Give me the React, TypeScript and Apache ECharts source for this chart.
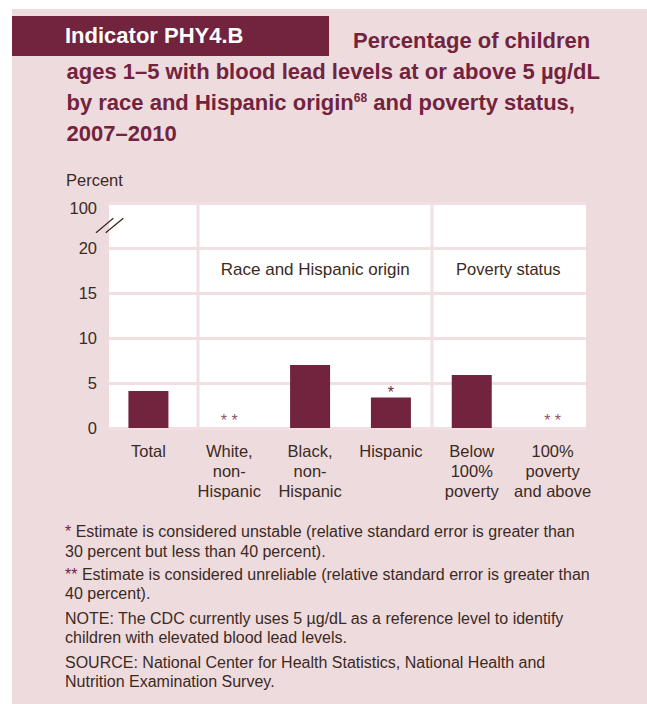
import React, { useEffect, useRef } from "react";
import * as echarts from "echarts";

// ---- data ----
const categories = [
  "Total",
  "White, non-Hispanic",
  "Black, non-Hispanic",
  "Hispanic",
  "Below 100% poverty",
  "100% poverty and above",
];
const categoryLabels = [
  "Total",
  "White,\nnon-\nHispanic",
  "Black,\nnon-\nHispanic",
  "Hispanic",
  "Below\n100%\npoverty",
  "100%\npoverty\nand above",
];
const values: (number | null)[] = [4.1, null, 7.0, 3.4, 5.9, null];
const flags = ["", "* *", "", "*", "", "* *"];
const yTicks = [0, 5, 10, 15, 20, 25];
const yTickLabels = ["0", "5", "10", "15", "20", "100"];
const groupHeaders = ["Race and Hispanic origin", "Poverty status"];
const titleBox = "Indicator PHY4.B";
const titleLines = [
  "Percentage of children",
  "ages 1–5 with blood lead levels at or above 5 µg/dL",
  "{t|by race and Hispanic origin}{s|68}{t| and poverty status,}",
  "2007–2010",
];
const yAxisTitle = "Percent";
const footnotes = [
  "{a|*} Estimate is considered unstable (relative standard error is greater than",
  "30 percent but less than 40 percent).",
  "{a|**} Estimate is considered unreliable (relative standard error is greater than",
  "40 percent).",
  "NOTE: The CDC currently uses 5 µg/dL as a reference level to identify",
  "children with elevated blood lead levels.",
  "SOURCE: National Center for Health Statistics, National Health and",
  "Nutrition Examination Survey.",
];

const FONT = "'Liberation Sans', Arial, sans-serif";
const MAROON = "#72233d";
const PINK = "#eedbde";
const GRIDPINK = "#f1dfe2";
const DARK = "#3b2a1e";

export default function App() {
  const ref = useRef<HTMLDivElement>(null);
  useEffect(() => {
    if (!ref.current) return;
    const chart = echarts.init(ref.current, null, { renderer: "svg" });
    const gridTop = 203;
    const gridBottom = 276;
    const footY = [531.7, 551, 574, 593.5, 618, 637, 662, 681];
    const titleY = [40.3, 71.3, 102.3, 133.3];
    const option: any = {
      animation: false,
      backgroundColor: PINK,
      grid: [
        { left: 109, right: 61, top: gridTop, bottom: gridBottom, show: true, backgroundColor: "#ffffff", borderWidth: 0 },
        { left: 108, width: 485, top: gridTop, bottom: gridBottom },
      ],
      xAxis: [
        { gridIndex: 0, type: "category", data: categories, show: false },
        {
          gridIndex: 1,
          type: "category",
          data: categories,
          axisLine: { show: false },
          axisTick: { show: false },
          axisLabel: {
            interval: 0,
            margin: 13,
            color: DARK,
            fontFamily: FONT,
            fontSize: 16.5,
            lineHeight: 20,
            align: "center",
            formatter: (_v: string, i: number) => categoryLabels[i],
          },
        },
      ],
      yAxis: [
        {
          gridIndex: 0,
          type: "value",
          min: 0,
          max: 25,
          interval: 5,
          axisLine: { show: false },
          axisTick: { show: false },
          axisLabel: {
            margin: 12,
            color: DARK,
            fontFamily: FONT,
            fontSize: 16.5,
            formatter: (v: number) => {
              const idx = yTicks.indexOf(v);
              const s = idx >= 0 ? yTickLabels[idx] : "";
              return v === yTicks[yTicks.length - 1] ? "{top|" + s + "}" : s;
            },
            rich: {
              top: { fontFamily: FONT, fontSize: 16.5, color: DARK, padding: [10, 0, 0, 0] },
            },
          },
          splitLine: { show: true, lineStyle: { color: GRIDPINK, width: 3 } },
        },
        { gridIndex: 1, type: "value", min: 0, max: 25, interval: 5, show: false, splitLine: { show: false } },
      ],
      series: [
        {
          type: "bar",
          xAxisIndex: 1,
          yAxisIndex: 1,
          data: values,
          barWidth: 40,
          itemStyle: { color: MAROON },
          label: {
            show: true,
            position: "top",
            distance: -3,
            color: MAROON,
            fontFamily: FONT,
            fontSize: 16,
            formatter: (p: any) => flags[p.dataIndex],
          },
        },
        {
          type: "scatter",
          xAxisIndex: 1,
          yAxisIndex: 1,
          symbolSize: 0,
          data: values.map((v) => (v == null ? 0 : null)),
          label: {
            show: true,
            position: "top",
            distance: 0,
            color: MAROON,
            fontFamily: FONT,
            fontSize: 16,
            formatter: (p: any) => flags[p.dataIndex],
          },
        },
      ],
      graphic: [
        // white page margins
        { type: "rect", shape: { x: 0, y: 0, width: 647, height: 9 }, style: { fill: "#ffffff" }, silent: true },
        { type: "rect", shape: { x: 0, y: 0, width: 12, height: 704 }, style: { fill: "#ffffff" }, silent: true },
        // title box
        { type: "rect", shape: { x: 12, y: 16, width: 317, height: 40 }, style: { fill: MAROON } },
        {
          type: "text",
          x: 65,
          y: 35.8,
          style: { text: titleBox, fill: "#ffffff", fontFamily: FONT, fontWeight: "bold", fontSize: 22, verticalAlign: "middle" },
        },
        ...titleLines.map((t, i) => ({
          type: "text",
          x: i === 0 ? 353 : 66.5,
          y: titleY[i],
          style: {
            text: t,
            fill: MAROON,
            fontFamily: FONT,
            fontWeight: "bold",
            fontSize: 22,
            verticalAlign: "middle",
            rich: {
              t: { fill: MAROON, fontFamily: FONT, fontWeight: "bold", fontSize: 22 },
              s: { fill: MAROON, fontFamily: FONT, fontWeight: "bold", fontSize: 12, verticalAlign: "middle", padding: [0, 0, 8, 0] },
            },
          },
        })),
        {
          type: "text",
          x: 66,
          y: 179.5,
          style: { text: yAxisTitle, fill: DARK, fontFamily: FONT, fontSize: 16.5, verticalAlign: "middle" },
        },
        // panel separators
        { type: "rect", z: 5, shape: { x: 196.5, y: 203, width: 3, height: 225 }, style: { fill: GRIDPINK } },
        { type: "rect", z: 5, shape: { x: 430.5, y: 203, width: 3, height: 225 }, style: { fill: GRIDPINK } },
        // axis break mark
        { type: "line", z: 6, shape: { x1: 96, y1: 232.7, x2: 113.3, y2: 218.3 }, style: { stroke: DARK, lineWidth: 1.3 } },
        { type: "line", z: 6, shape: { x1: 105.7, y1: 232.7, x2: 123.3, y2: 218.3 }, style: { stroke: DARK, lineWidth: 1.3 } },
        // group headers
        {
          type: "text",
          z: 6,
          x: 315.3,
          y: 269,
          style: { text: groupHeaders[0], fill: DARK, fontFamily: FONT, fontSize: 17, align: "center", verticalAlign: "middle" },
        },
        {
          type: "text",
          z: 6,
          x: 508.3,
          y: 269,
          style: { text: groupHeaders[1], fill: DARK, fontFamily: FONT, fontSize: 16.5, align: "center", verticalAlign: "middle" },
        },
        // footnotes
        ...footnotes.map((t, i) => ({
          type: "text",
          x: 65,
          y: footY[i],
          style: {
            text: t,
            fill: DARK,
            fontFamily: FONT,
            fontSize: 16,
            verticalAlign: "middle",
            rich: { a: { fill: MAROON, fontFamily: FONT, fontSize: 16 } },
          },
        })),
      ],
    };
    chart.setOption(option);
    return () => chart.dispose();
  }, []);
  return <div ref={ref} style={{ position: "fixed", left: 0, top: 0, width: 647, height: 704 }} />;
}
